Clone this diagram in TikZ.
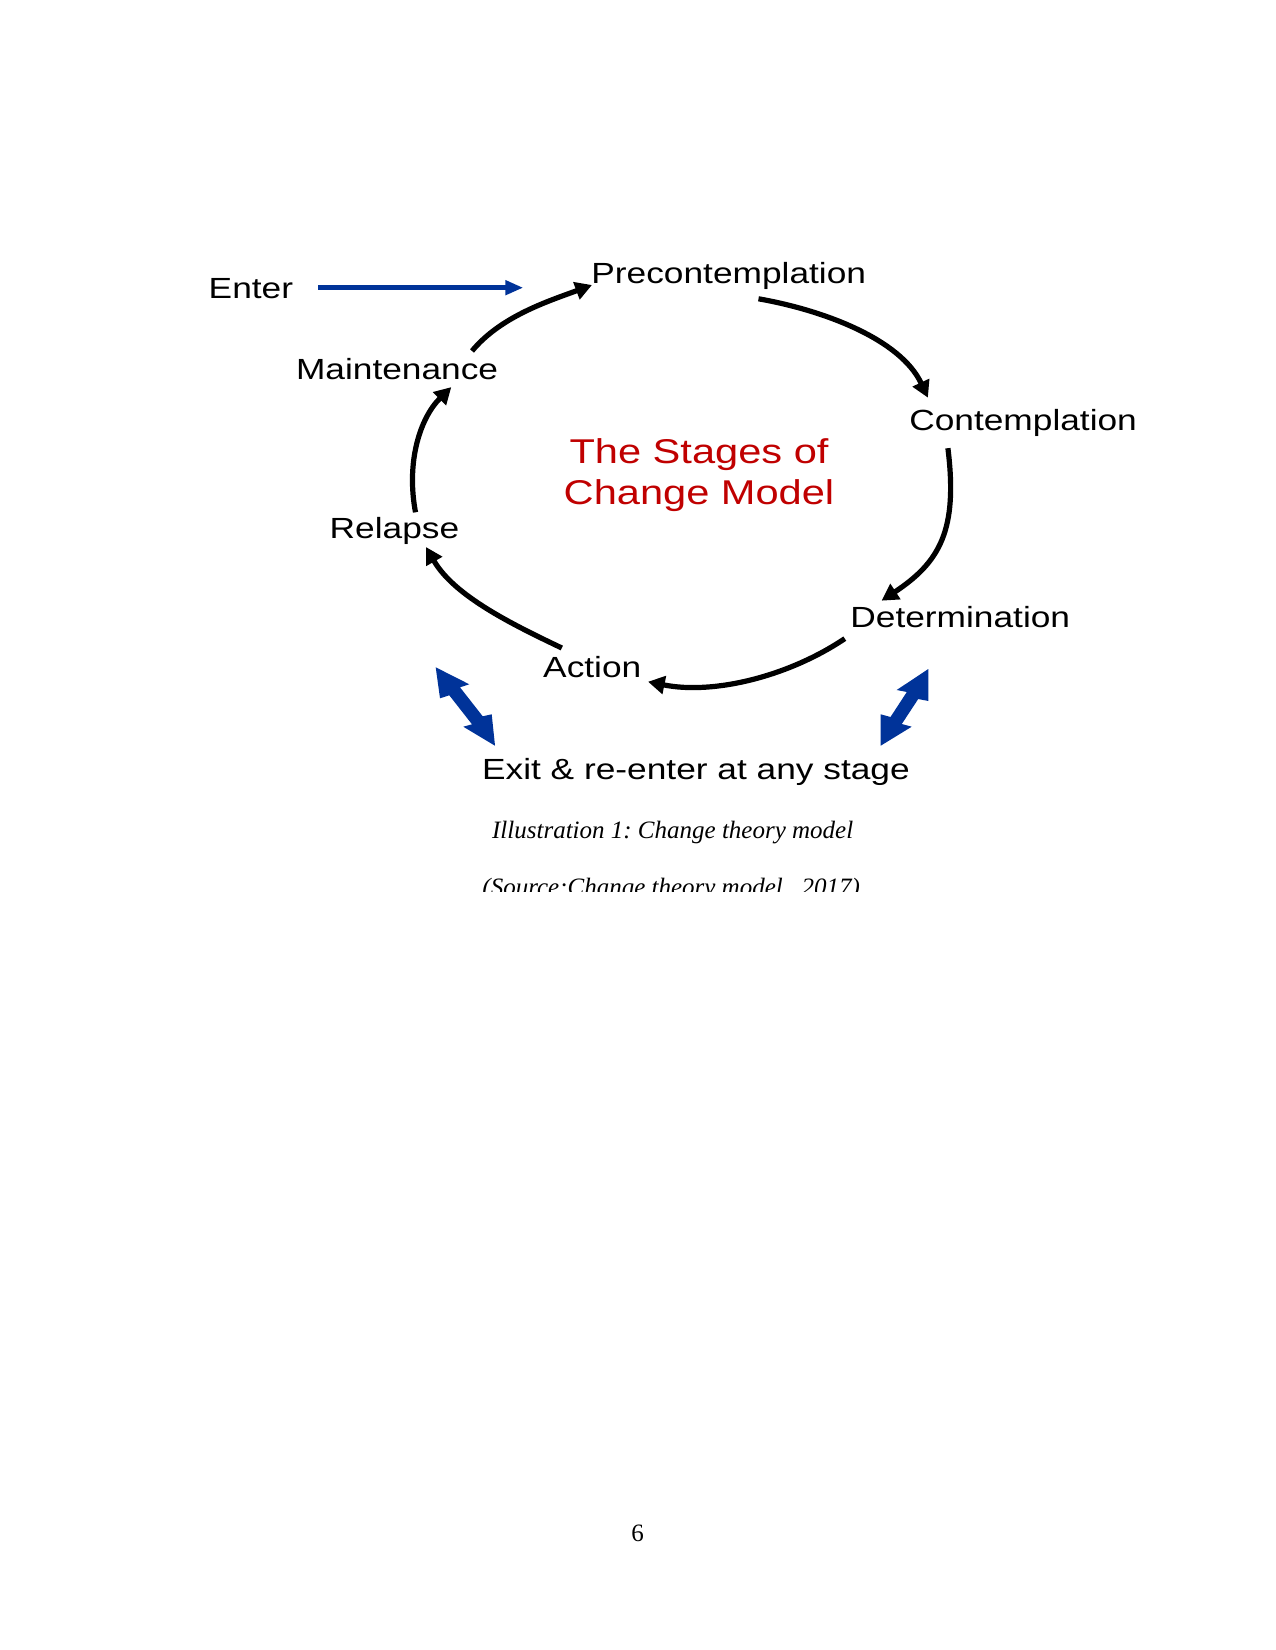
\documentclass[tikz,border=0pt]{standalone}
\usepackage{fontspec}
\setmainfont{Liberation Serif}
\newfontfamily\labfont[FakeStretch=1.21]{Liberation Sans}
\usetikzlibrary{arrows.meta}
\definecolor{exitblue}{RGB}{0,51,153}
\definecolor{titlered}{RGB}{192,0,0}
\frenchspacing
\begin{document}
\begin{tikzpicture}[x=0.48pt,y=-0.48pt,
  stage/.style={inner sep=0pt, anchor=base west, font=\labfont\fontsize{14}{16}\selectfont},
  titletext/.style={inner sep=0pt, anchor=base, text=titlered, font=\labfont\fontsize{16.5}{19}\selectfont},
  captext/.style={inner sep=0pt, anchor=base west, font=\itshape\fontsize{12}{14}\selectfont},
  ring/.style={line width=2.5pt, -{Triangle[length=8pt,width=8.5pt]}},
  enterarrow/.style={line width=2.4pt, draw=exitblue, -{Triangle[length=8.6pt,width=6.7pt]}},
  exitarrow/.style={fill=exitblue, draw=none}]
\useasboundingbox (0,0) rectangle (1275,1650);
\fill[white] (0,0) rectangle (1275,1650);

% stage labels
\node[stage] (enter) at (208.3,298.3) {Enter};
\node[stage] (pre) at (591,283.3) {Precontemplation};
\node[stage] (main) at (295.6,379.8) {Maintenance};
\node[stage] (cont) at (908.9,430.3) {Contemplation};
\node[stage] (rel) at (329.3,538.6) {Relapse};
\node[stage] (det) at (850,627) {Determination};
\node[stage] (act) at (542.8,677.5) {Action};
\node[stage] (exit) at (481.7,779) {Exit \& re-enter at any stage};

% title
\node[titletext] (t1) at (699,463.5) {The Stages of};
\node[titletext] (t2) at (699,504) {Change Model};

% enter arrow
\coordinate (ens) at (318,287.7);
\coordinate (ene) at (523.3,287.7);
\draw[enterarrow] (ens) -- (ene);

% ring arcs
\coordinate (a1s) at (472,351);     \coordinate (a1e) at (592,285);
\coordinate (a2s) at (758.5,298.8); \coordinate (a2e) at (927.9,397.7);
\coordinate (a3s) at (947.9,448.2); \coordinate (a3e) at (881.6,600.7);
\coordinate (a4s) at (844.8,638.6); \coordinate (a4e) at (648,681.7);
\coordinate (a5s) at (561.8,648);   \coordinate (a5e) at (426,547);
\coordinate (a6s) at (415.5,512.3); \coordinate (a6e) at (451.3,387.1);
\draw[ring] (a1s) .. controls (501,316) and (549,301) .. (a1e);
\draw[ring] (a2s) .. controls (822.5,310) and (900.4,338.8) .. (a2e);
\draw[ring] (a3s) .. controls (958,530) and (940,562) .. (a3e);
\draw[ring] (a4s) .. controls (789.2,676.1) and (713.7,695.1) .. (a4e);
\draw[ring] (a5s) .. controls (511.4,624) and (454,595.7) .. (a5e);
\draw[ring] (a6s) .. controls (406,462) and (420,418) .. (a6e);

% exit / re-enter double arrows
\fill[exitarrow] (435.7,667.3) -- (469.3,684.3) -- (460,687.3) -- (482.7,716.3)
  -- (491.7,714.3) -- (495,745.7) -- (463.3,726.7) -- (472,724.3)
  -- (449.3,695.3) -- (440,698.3) -- cycle;
\fill[exitarrow] (928.3,669) -- (928.3,701) -- (918.2,699) -- (901.8,724)
  -- (911.7,726.7) -- (880.7,745.7) -- (880.7,714.3) -- (890.5,717)
  -- (906.8,692) -- (896.7,690) -- cycle;

% caption
\node[captext] (cap) at (491.7,838) {Illustration 1: Change theory model};
\begin{scope}
\clip (0,0) rectangle (1275,891);
\node[captext] (src) at (482,895) {(Source:Change theory model , 2017)};
\end{scope}

% page number
\node[inner sep=0pt, anchor=base, font=\fontsize{12}{14}\selectfont] (pg) at (637.5,1541) {6};
\end{tikzpicture}
\end{document}
